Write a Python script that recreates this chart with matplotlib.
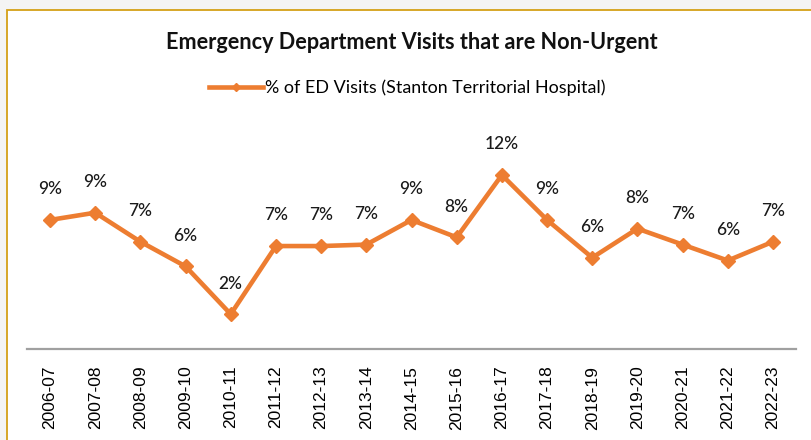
import matplotlib.pyplot as plt
from matplotlib.patches import Rectangle
from matplotlib.lines import Line2D

years = ["2006-07", "2007-08", "2008-09", "2009-10", "2010-11", "2011-12",
         "2012-13", "2013-14", "2014-15", "2015-16", "2016-17", "2017-18",
         "2018-19", "2019-20", "2020-21", "2021-22", "2022-23"]
non_urgent_pct = [8.9, 9.4, 7.4, 5.7, 2.4, 7.1, 7.1, 7.2, 8.9, 7.7, 12.0,
                  8.9, 6.3, 8.3, 7.2, 6.1, 7.4]

orange = "#ED7D31"

fig = plt.figure(figsize=(8.11, 4.4), dpi=100)
fig.patch.set_facecolor("#f4f4f4")
# white card with a gold edge, running off the right and bottom
fig.patches.append(Rectangle((6.5 / 811, -0.1), 1.1, (430 + 44) / 440,
                             transform=fig.transFigure, facecolor="white",
                             edgecolor="#D4A017", linewidth=1.3, zorder=-10))

ax = fig.add_axes([27.4 / 811, 91 / 440, 768.2 / 811, 203 / 440])
ax.set_zorder(5)
ax.set_facecolor("none")
x = range(len(years))
ax.plot(x, non_urgent_pct, color=orange, linewidth=3.3, marker="D",
        markersize=7, markeredgewidth=1, markeredgecolor=orange,
        solid_joinstyle="miter", clip_on=False)

for i, v in enumerate(non_urgent_pct):
    ax.annotate(f"{v:.0f}%", (i, v), xytext=(0, 22), textcoords="offset points",
                ha="center", va="center", fontsize=12.5, family="Lato",
                fontweight="medium", color="#1a1a1a")

ax.set_xlim(-0.5, len(years) - 0.5)
ax.set_ylim(0, 14)
ax.set_xticks(list(x))
ax.set_xticklabels(years, rotation=90, fontsize=12.5, family="Liberation Sans",
                   color="#000000")
ax.tick_params(axis="x", length=0, pad=12)
ax.set_yticks([])
for side in ["left", "right", "top"]:
    ax.spines[side].set_visible(False)
ax.spines["bottom"].set_color("#a0a0a0")
ax.spines["bottom"].set_linewidth(1.6)

fig.text(0.508, 0.903, "Emergency Department Visits that are Non-Urgent",
         ha="center", va="center", fontsize=15.6, fontweight="bold",
         family="Lato", color="#111111")

handle = Line2D([], [], color=orange, linewidth=3.3, marker="D", markersize=4.5)
fig.legend([handle], ["% of ED Visits (Stanton Territorial Hospital)"],
           loc="center", bbox_to_anchor=(0.502, 0.8), frameon=False,
           prop={"family": "Lato", "size": 12.9},
           handlelength=3.0, handletextpad=0.1)

plt.savefig("out.png", dpi=100, facecolor=fig.get_facecolor())
